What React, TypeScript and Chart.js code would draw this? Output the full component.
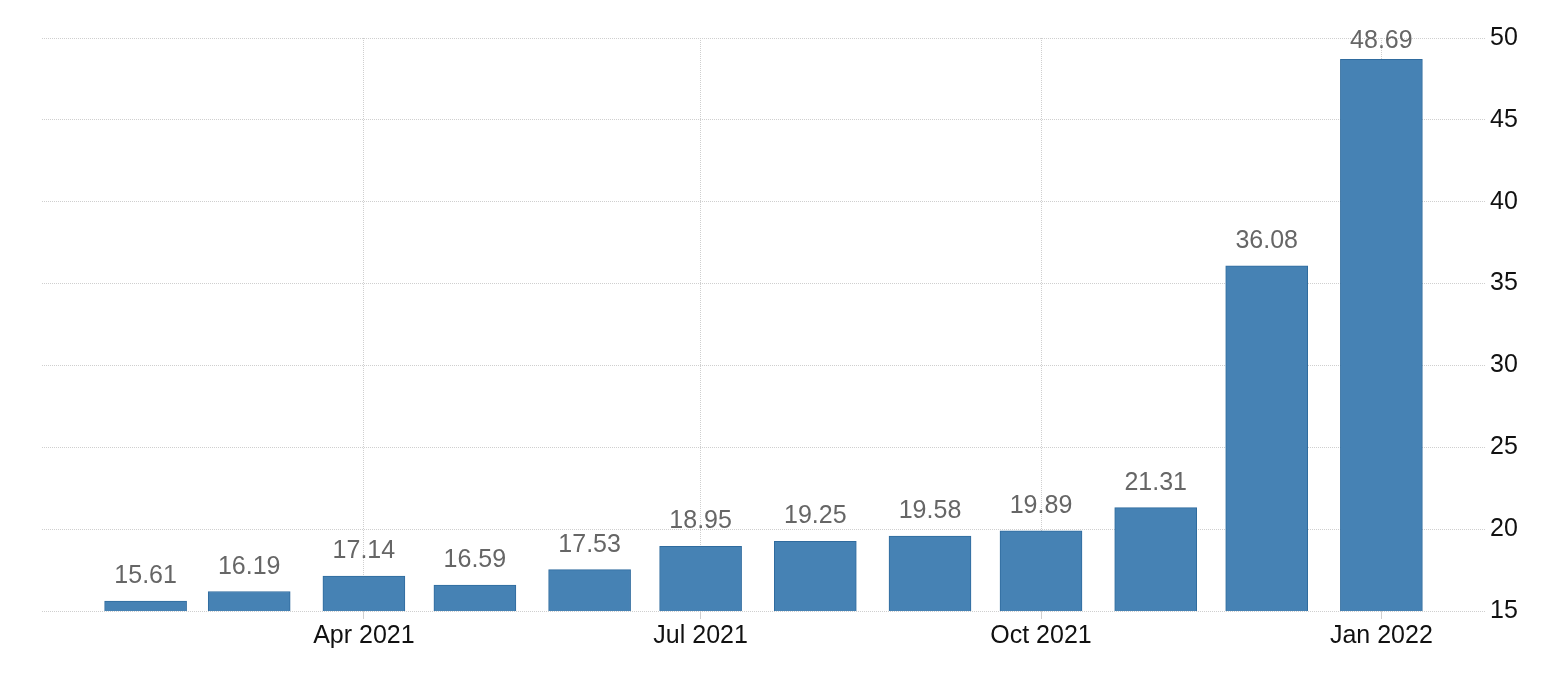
import React, { useEffect, useRef } from "react";
import { Chart, registerables } from "chart.js";

Chart.register(...registerables);

const months: string[] = [
  "2021-02-01", "2021-03-01", "2021-04-01", "2021-05-01", "2021-06-01", "2021-07-01",
  "2021-08-01", "2021-09-01", "2021-10-01", "2021-11-01", "2021-12-01", "2022-01-01",
];
const values: number[] = [15.61, 16.19, 17.14, 16.59, 17.53, 18.95, 19.25, 19.58, 19.89, 21.31, 36.08, 48.69];
const tickDates: string[] = ["2021-04-01", "2021-07-01", "2021-10-01", "2022-01-01"];
const tickLabels: string[] = ["Apr 2021", "Jul 2021", "Oct 2021", "Jan 2022"];
const yTicks: number[] = [15, 20, 25, 30, 35, 40, 45, 50];

const ORIGIN = Date.UTC(2021, 0, 1);
const dayOf = (s: string): number => {
  const [y, m, d] = s.split("-").map(Number);
  return Math.round((Date.UTC(y, m - 1, d) - ORIGIN) / 86400000);
};

const FONT = "'Liberation Sans', Arial, sans-serif";

const labelPlugin = {
  id: "barLabels",
  afterDatasetsDraw(chart: any) {
    const ctx = chart.ctx;
    const meta = chart.getDatasetMeta(0);
    ctx.save();
    ctx.font = `25px ${FONT}`;
    ctx.fillStyle = "#666666";
    ctx.textAlign = "center";
    ctx.textBaseline = "alphabetic";
    meta.data.forEach((el: any, i: number) => {
      const y = Math.max(el.y - 18, 48);
      ctx.fillText(values[i].toFixed(2), el.x, y);
    });
    ctx.restore();
  },
};

export default function App() {
  const ref = useRef<HTMLCanvasElement | null>(null);
  useEffect(() => {
    if (!ref.current) return;
    const tickDays = tickDates.map(dayOf);
    const chart = new Chart(ref.current, {
      type: "bar",
      data: {
        datasets: [
          {
            data: months.map((m, i) => ({ x: dayOf(m), y: values[i] })),
            backgroundColor: "#4682b4",
            borderColor: "#2f6b9e",
            borderWidth: 1,
            barThickness: 82,
          },
        ],
      },
      options: {
        responsive: false,
        animation: false,
        devicePixelRatio: 1,
        layout: { padding: { left: 42, top: 38, right: 0, bottom: 0 } },
        plugins: { legend: { display: false }, tooltip: { enabled: false } },
        scales: {
          x: {
            type: "linear",
            min: 3,
            max: 393,
            offset: false,
            afterBuildTicks: (scale: any) => {
              scale.ticks = tickDays.map((v) => ({ value: v }));
            },
            afterFit: (scale: any) => {
              scale.height = 67;
            },
            ticks: {
              autoSkip: false,
              maxRotation: 0,
              padding: 2,
              color: "#111111",
              font: { size: 25, family: FONT },
              callback: (v: any) => {
                const idx = tickDays.indexOf(Number(v));
                return idx >= 0 ? tickLabels[idx] : "";
              },
            },
            grid: {
              offset: false,
              color: "#cfcfcf",
              lineWidth: 1,
              drawTicks: true,
              tickLength: 8,
              tickColor: "#cfcfcf",
              tickBorderDash: [],
            },
            border: { display: false, dash: [1, 1] },
          },
          y: {
            position: "right",
            min: 15,
            max: 50,
            afterBuildTicks: (scale: any) => {
              scale.ticks = yTicks.map((v) => ({ value: v }));
            },
            afterFit: (scale: any) => {
              scale.width = 71;
            },
            ticks: {
              padding: 5,
              color: "#111111",
              font: { size: 25, family: FONT },
            },
            grid: { color: "#cfcfcf", lineWidth: 1, drawTicks: false },
            border: { display: false, dash: [1, 1] },
          },
        },
      },
      plugins: [labelPlugin],
    });
    return () => chart.destroy();
  }, []);
  return (
    <div style={{ position: "absolute", left: 0, top: 0, width: 1556, height: 678, background: "#ffffff" }}>
      <canvas ref={ref} width={1556} height={678} style={{ width: 1556, height: 678, display: "block" }} />
    </div>
  );
}
